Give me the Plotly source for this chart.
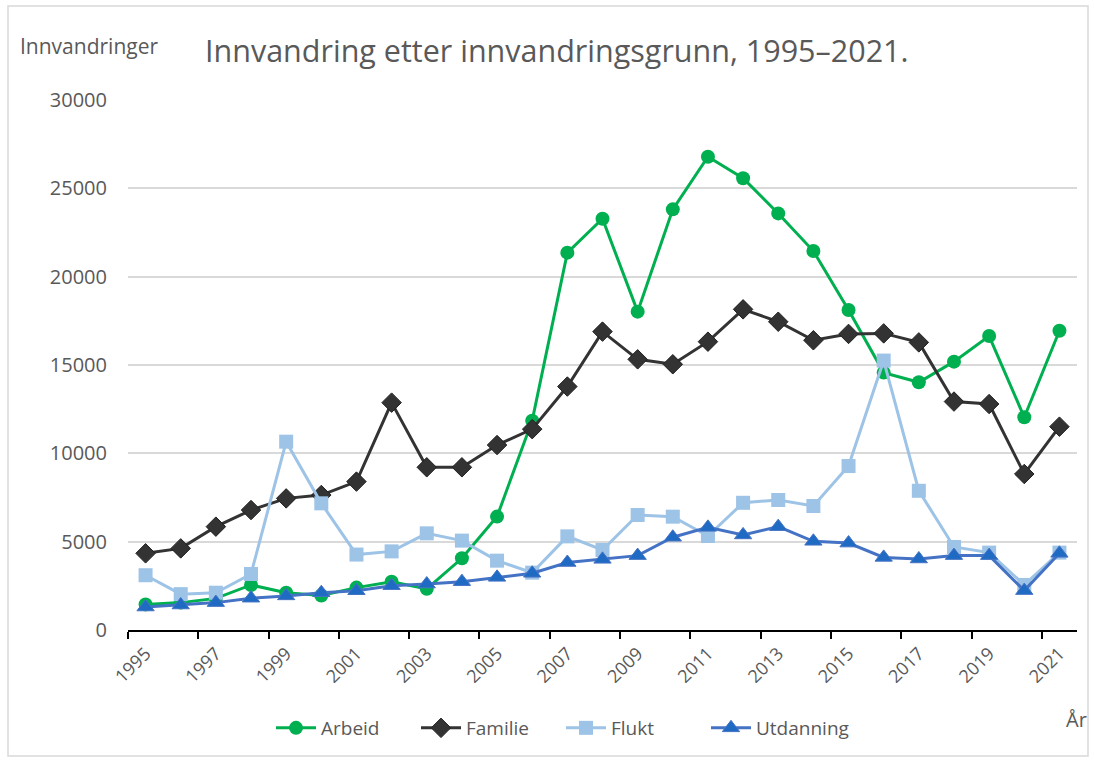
import plotly.graph_objects as go

years = list(range(1995, 2022))
arbeid = [1450, 1550, 1790, 2550, 2110, 1950, 2400, 2730, 2330, 4060, 6420, 11850,
          21360, 23280, 18020, 23810, 26790, 25570, 23580, 21450, 18110, 14570,
          14020, 15190, 16640, 12040, 16940]
familie = [4340, 4620, 5850, 6790, 7450, 7640, 8400, 12870, 9210, 9210, 10470, 11370,
           13780, 16890, 15320, 15040, 16320, 18150, 17450, 16400, 16760, 16790,
           16280, 12930, 12790, 8830, 11510]
flukt = [3100, 2030, 2110, 3170, 10660, 7170, 4270, 4450, 5470, 5060, 3925, 3245,
         5300, 4530, 6510, 6415, 5320, 7200, 7360, 7020, 9280, 15250,
         7880, 4700, 4380, 2550, 4380]
utdanning = [1300, 1415, 1550, 1800, 1930, 2110, 2220, 2510, 2600, 2735, 2980, 3210,
             3820, 4000, 4210, 5250, 5810, 5380, 5850, 5020, 4920, 4110,
             4020, 4210, 4210, 2230, 4340]
label_years = list(range(1995, 2022, 2))
y_ticks = [0, 5000, 10000, 15000, 20000, 25000, 30000]

# each year occupies one slot; points and labels sit in the middle of the slot
xpos = [y + 0.5 for y in years]
label_pos = [y + 0.5 for y in label_years]
boundary_ticks = list(range(1995, 2023, 2))

FONT = "Open Sans"
GREY = "#595959"

fig = go.Figure()
fig.add_trace(go.Scatter(x=xpos, y=arbeid, name="Arbeid", mode="lines+markers",
                         line=dict(color="#00B050", width=3),
                         marker=dict(symbol="circle", size=14, color="#00B050")))
fig.add_trace(go.Scatter(x=xpos, y=familie, name="Familie", mode="lines+markers",
                         line=dict(color="#333333", width=3),
                         marker=dict(symbol="diamond", size=15, color="#333333",
                                     line=dict(color="#222222", width=1))))
fig.add_trace(go.Scatter(x=xpos, y=flukt, name="Flukt", mode="lines+markers",
                         line=dict(color="#9DC3E6", width=3),
                         marker=dict(symbol="square", size=14, color="#9DC3E6")))
fig.add_trace(go.Scatter(x=xpos, y=utdanning, name="Utdanning", mode="lines+markers",
                         line=dict(color="#4472C4", width=3),
                         marker=dict(symbol="triangle-up", size=15, color="#1F6BC4",
                                     line=dict(color="#4472C4", width=1))))

L, R, T, B = 128, 1077, 100, 630
W, H = 1094, 760
pw, ph = R - L, B - T

def px(x):
    return (x - L) / pw

def py(y):
    return (B - y) / ph

fig.update_layout(
    width=W, height=H,
    margin=dict(l=L, r=W - R, t=T, b=H - B),
    paper_bgcolor="white", plot_bgcolor="white",
    font=dict(family=FONT, color=GREY, size=18),
    showlegend=True,
    legend=dict(orientation="h", x=px(561), xanchor="center", y=py(728), yanchor="middle",
                font=dict(size=19, color=GREY), bgcolor="rgba(0,0,0,0)",
                itemwidth=40, tracegroupgap=0, entrywidth=90),
    xaxis=dict(range=[1995, 2022], tickmode="array", tickvals=label_pos,
               ticktext=[str(y) for y in label_years], tickangle=-45,
               showgrid=False, zeroline=False, showline=True, linecolor="black",
               linewidth=2, ticks="", ticklabelstandoff=4,
               tickfont=dict(size=18, color=GREY),
               minor=dict(tickmode="array", tickvals=boundary_ticks, ticks="outside",
                          ticklen=7, tickwidth=2, tickcolor="black", showgrid=False)),
    yaxis=dict(range=[0, 30000], tickmode="array", tickvals=y_ticks,
               ticktext=[str(v) for v in y_ticks],
               showgrid=True, gridcolor="#D9D9D9", gridwidth=1.5, zeroline=False,
               showline=False, ticks="", ticklabelstandoff=20,
               tickfont=dict(size=20, color=GREY)),
    shapes=[dict(type="rect", xref="paper", yref="paper",
                 x0=px(8), x1=px(1088), y0=py(756), y1=py(6),
                 line=dict(color="#D9D9D9", width=1.5), fillcolor="rgba(0,0,0,0)", layer="below")],
    annotations=[
        dict(text="Innvandring etter innvandringsgrunn, 1995–2021.", xref="paper", yref="paper",
             x=px(203), y=py(50), xanchor="left", yanchor="middle", showarrow=False,
             font=dict(size=30.5, color=GREY, family=FONT)),
        dict(text="Innvandringer", xref="paper", yref="paper",
             x=px(18), y=py(46), xanchor="left", yanchor="middle", showarrow=False,
             font=dict(size=21, color=GREY, family=FONT)),
        dict(text="År", xref="paper", yref="paper",
             x=px(1089), y=py(719), xanchor="right", yanchor="middle", showarrow=False,
             font=dict(size=20, color=GREY, family=FONT)),
    ],
)

fig.write_html("out.html", post_script="document.body.style.margin='0';",
               config={"displayModeBar": False})
